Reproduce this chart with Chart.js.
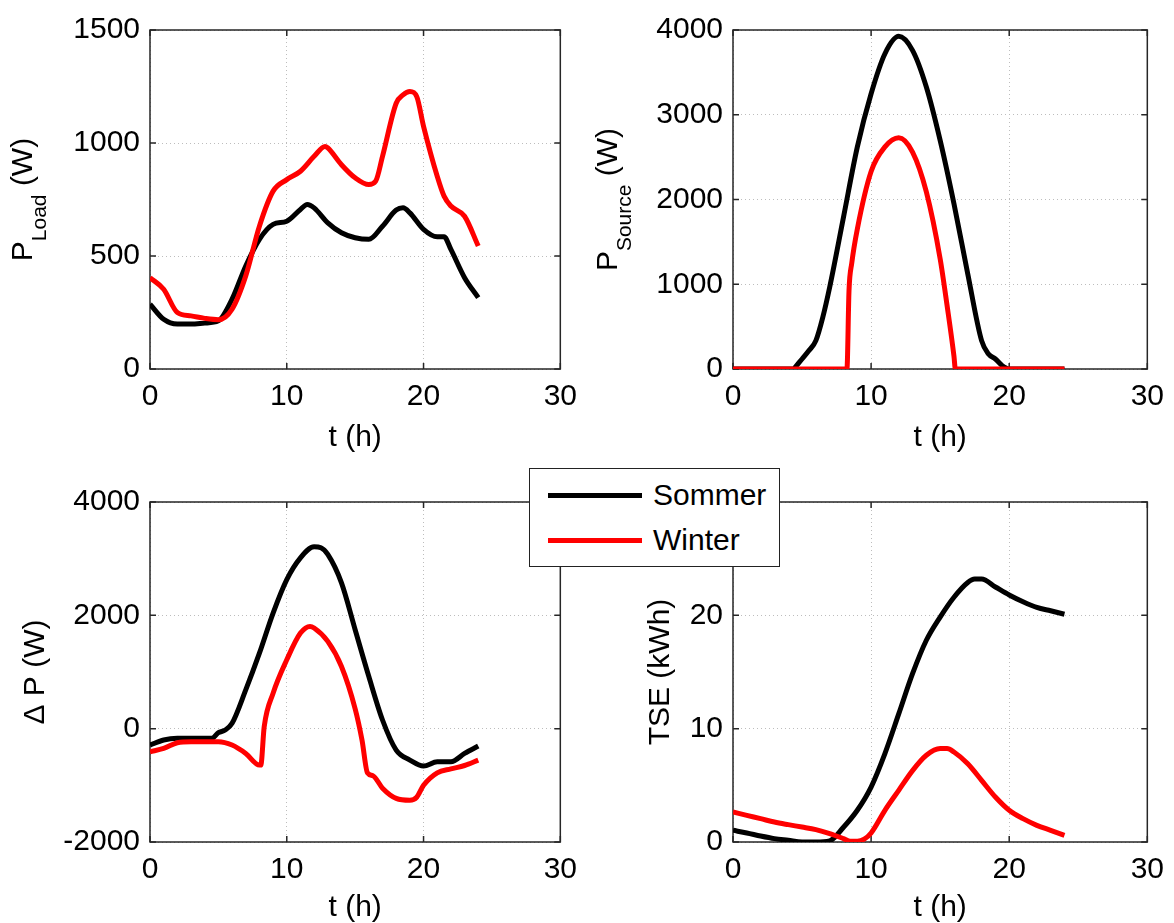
<!DOCTYPE html>
<html>
<head>
<meta charset="utf-8">
<script src="https://cdn.jsdelivr.net/npm/chart.js@4.4.1/dist/chart.umd.min.js"></script>
<style>
  body { margin: 0; background: #fff; width: 1174px; height: 923px; position: relative; overflow: hidden; font-family: 'Liberation Sans', Arial, sans-serif; }
  canvas { position: absolute; }
  #legend { position: absolute; left: 529px; top: 468px; width: 251px; height: 99px; box-sizing: border-box; border: 1.5px solid #222; background: #fff; z-index: 5; }
  .row { position: absolute; left: 18px; height: 34px; display: flex; align-items: center; font-size: 30px; line-height: 34px; color: #000; }
  .swatch { width: 94px; height: 5px; margin-right: 11px; }
</style>
</head>
<body>
<canvas id="load" width="587" height="460" style="left:0;top:0"></canvas>
<canvas id="source" width="587" height="460" style="left:587px;top:0"></canvas>
<canvas id="delta" width="587" height="470" style="left:0;top:460px"></canvas>
<canvas id="tse" width="587" height="470" style="left:587px;top:460px"></canvas>
<div id="legend"></div>
<script>
// Series names and colours
const seriesNames = ['Sommer', 'Winter'];
const seriesColors = ['#000000', '#ff0000'];

// P_Load (W)
const tLoadSommer = [0, 1, 2, 3, 4, 5, 6, 7, 8, 9, 10, 11, 11.5, 12, 13, 14, 15, 16, 17, 18, 18.5, 19, 20, 21, 21.5, 22, 23, 24];
const loadSommer = [287, 220, 199, 199, 203, 213, 309, 456, 574, 640, 654, 706, 728, 713, 647, 603, 581, 574, 632, 703, 713, 691, 618, 585, 585, 529, 404, 316];
const tLoadWinter = [0, 1, 2, 3, 4, 5, 6, 7, 8, 9, 10, 11, 12, 12.8, 13, 14, 15, 16, 16.5, 17, 18, 18.5, 19, 19.5, 20, 21, 21.5, 22, 23, 24];
const loadWinter = [404, 353, 250, 235, 224, 218, 265, 412, 632, 787, 838, 875, 941, 985, 978, 904, 846, 816, 831, 941, 1176, 1213, 1228, 1206, 1074, 853, 765, 721, 676, 544];

// P_Source (W)
const tSourceSommer = [0, 4.4, 4.5, 5, 5.5, 6, 6.5, 7, 8, 9, 10, 11, 12, 13, 14, 15, 16, 17, 18, 18.5, 19, 19.5, 20, 24];
const sourceSommer = [0, 0, 20, 118, 217, 335, 610, 965, 1791, 2618, 3248, 3720, 3925, 3760, 3327, 2697, 1949, 1122, 335, 177, 118, 39, 0, 0];
const tSourceWinter = [0, 8.25, 8.4, 8.6, 9, 10, 11, 12, 13, 14, 15, 15.5, 16, 16.1, 24];
const sourceWinter = [0, 0, 925, 1250, 1650, 2330, 2620, 2728, 2560, 2090, 1300, 750, 150, 0, 0];

// Delta P (W)
const tDeltaSommer = [0, 1, 2, 3, 4, 4.5, 5, 5.5, 6, 7, 8, 9, 10, 11, 12, 12.5, 13, 14, 15, 16, 17, 18, 19, 20, 21, 22, 23, 24];
const deltaSommer = [-289, -200, -171, -171, -171, -171, -71, -24, 94, 684, 1333, 2041, 2631, 3015, 3209, 3192, 3074, 2572, 1746, 920, 153, -378, -555, -661, -584, -584, -437, -307];
const tDeltaWinter = [0, 1, 2, 3, 4, 5, 6, 7, 8, 8.1, 8.35, 9, 10, 11, 11.7, 12, 13, 14, 15, 15.5, 15.9, 16.3, 17, 18, 19, 19.5, 20, 21, 22, 23, 24];
const deltaWinter = [-407, -348, -248, -230, -230, -230, -289, -437, -643, -643, 35, 625, 1215, 1687, 1805, 1776, 1540, 1097, 350, -200, -780, -830, -1050, -1230, -1263, -1210, -1000, -780, -710, -650, -555];

// TSE (kWh)
const tTseSommer = [0, 1, 2, 3, 4, 5, 6, 7, 8, 9, 10, 11, 12, 13, 14, 15, 16, 17, 17.5, 18, 19, 20, 21, 22, 23, 24];
const tseSommer = [1.03, 0.8, 0.53, 0.3, 0.15, 0, 0, 0.1, 1.3, 2.8, 4.85, 7.8, 11.3, 14.85, 17.8, 19.85, 21.6, 22.9, 23.2, 23.2, 22.5, 21.8, 21.2, 20.7, 20.4, 20.1];
const tTseWinter = [0, 1, 2, 3, 4, 5, 6, 7, 8, 8.5, 9, 9.5, 10, 11, 12, 13, 14, 15, 15.5, 16, 17, 18, 19, 20, 21, 22, 23, 24];
const tseWinter = [2.65, 2.35, 2.06, 1.76, 1.53, 1.32, 1.09, 0.74, 0.3, 0.06, 0.06, 0.25, 0.8, 2.8, 4.56, 6.3, 7.65, 8.24, 8.24, 7.94, 6.9, 5.44, 3.97, 2.8, 2.06, 1.47, 1.03, 0.59];

// Axis ticks
const xTicks = { min: 0, max: 30, step: 10 };
const loadTicks = { min: 0, max: 1500, step: 500 };
const sourceTicks = { min: 0, max: 4000, step: 1000 };
const deltaTicks = { min: -2000, max: 4000, step: 2000 };
const tseTicks = { min: 0, max: 30, step: 10 };

const FONT = "'Liberation Sans', Arial, Helvetica, sans-serif";
Chart.defaults.font.family = FONT;
Chart.defaults.color = '#000';

// box around the plot area with small inward ticks (MATLAB look)
const frame = {
  id: 'frame',
  beforeDatasetsDraw(chart) {
    const { ctx, chartArea: a, scales } = chart;
    ctx.save();
    ctx.strokeStyle = '#262626';
    ctx.lineWidth = 1.5;
    ctx.strokeRect(a.left, a.top, a.right - a.left, a.bottom - a.top);
    ctx.beginPath();
    scales.x.ticks.forEach(t => {
      const px = scales.x.getPixelForValue(t.value);
      ctx.moveTo(px, a.bottom); ctx.lineTo(px, a.bottom - 6);
      ctx.moveTo(px, a.top); ctx.lineTo(px, a.top + 6);
    });
    scales.y.ticks.forEach(t => {
      const py = scales.y.getPixelForValue(t.value);
      ctx.moveTo(a.left, py); ctx.lineTo(a.left + 6, py);
      ctx.moveTo(a.right, py); ctx.lineTo(a.right - 6, py);
    });
    ctx.stroke();
    ctx.restore();
  }
};

// rotated y axis title with optional subscript part
const yTitle = {
  id: 'yTitle',
  afterDraw(chart, args, opts) {
    const { ctx, chartArea: a } = chart;
    const parts = opts.parts;
    ctx.save();
    ctx.translate(a.left - opts.offset, (a.top + a.bottom) / 2);
    ctx.rotate(-Math.PI / 2);
    ctx.fillStyle = '#000';
    ctx.textBaseline = 'middle';
    const widths = parts.map(p => {
      ctx.font = (p.sub ? 21 : 30) + 'px ' + FONT;
      return ctx.measureText(p.text).width;
    });
    let x = -widths.reduce((s, w) => s + w, 0) / 2;
    parts.forEach((p, i) => {
      ctx.font = (p.sub ? 21 : 30) + 'px ' + FONT;
      ctx.fillText(p.text, x, p.sub ? 16 : 0);
      x += widths[i];
    });
    ctx.restore();
  }
};

function toPoints(ts, vs) {
  return ts.map((t, i) => ({ x: t, y: vs[i] }));
}

function makePanel(id, cfg) {
  const font = { family: FONT, size: 30 };
  return new Chart(document.getElementById(id), {
    type: 'line',
    data: {
      datasets: [
        { label: seriesNames[0], data: toPoints(cfg.tS, cfg.s), borderColor: seriesColors[0], order: 1 },
        { label: seriesNames[1], data: toPoints(cfg.tW, cfg.w), borderColor: seriesColors[1], order: 0 }
      ]
    },
    options: {
      responsive: false,
      animation: false,
      layout: { padding: { left: 0, right: cfg.right, top: cfg.top, bottom: 0 } },
      elements: {
        point: { radius: 0 },
        line: { borderWidth: 5, cubicInterpolationMode: 'monotone', fill: false }
      },
      plugins: {
        legend: { display: false },
        tooltip: { enabled: false },
        yTitle: { parts: cfg.title, offset: cfg.titleOffset }
      },
      scales: {
        x: {
          type: 'linear', min: xTicks.min, max: xTicks.max,
          ticks: { stepSize: xTicks.step, padding: 10, font: font, color: '#000', maxRotation: 0 },
          grid: { color: '#bdbdbd', lineWidth: 1, drawTicks: false },
          border: { display: false, dash: [1, 3] },
          title: { display: true, text: 't (h)', font: font, color: '#000', padding: { top: 0, bottom: 4 } },
          afterFit: s => { s.height = cfg.xHeight; }
        },
        y: {
          type: 'linear', min: cfg.yt.min, max: cfg.yt.max,
          ticks: { stepSize: cfg.yt.step, padding: 10, font: font, color: '#000', callback: v => String(v) },
          grid: { color: '#bdbdbd', lineWidth: 1, drawTicks: false },
          border: { display: false, dash: [1, 3] },
          afterFit: s => { s.width = cfg.yWidth; }
        }
      }
    },
    plugins: [frame, yTitle]
  });
}

makePanel('load', {
  tS: tLoadSommer, s: loadSommer, tW: tLoadWinter, w: loadWinter, yt: loadTicks,
  top: 30, right: 21, yWidth: 150, xHeight: 91, titleOffset: 126,
  title: [{ text: 'P' }, { text: 'Load', sub: true }, { text: ' (W)' }]
});
makePanel('source', {
  tS: tSourceSommer, s: sourceSommer, tW: tSourceWinter, w: sourceWinter, yt: sourceTicks,
  top: 30, right: 24, yWidth: 146, xHeight: 91, titleOffset: 124,
  title: [{ text: 'P' }, { text: 'Source', sub: true }, { text: ' (W)' }]
});
makePanel('delta', {
  tS: tDeltaSommer, s: deltaSommer, tW: tDeltaWinter, w: deltaWinter, yt: deltaTicks,
  top: 42, right: 21, yWidth: 150, xHeight: 88, titleOffset: 114,
  title: [{ text: 'Δ P (W)' }]
});
makePanel('tse', {
  tS: tTseSommer, s: tseSommer, tW: tTseWinter, w: tseWinter, yt: tseTicks,
  top: 42, right: 24, yWidth: 146, xHeight: 88, titleOffset: 72,
  title: [{ text: 'TSE (kWh)' }]
});

// Legend box shared by all panels
const legend = document.getElementById('legend');
seriesNames.forEach((name, i) => {
  const row = document.createElement('div');
  row.className = 'row';
  row.style.top = (i === 0 ? 9 : 54) + 'px';
  row.innerHTML = '<span class="swatch" style="background:' + seriesColors[i] + '"></span>' + name;
  legend.appendChild(row);
});
</script>
</body>
</html>
